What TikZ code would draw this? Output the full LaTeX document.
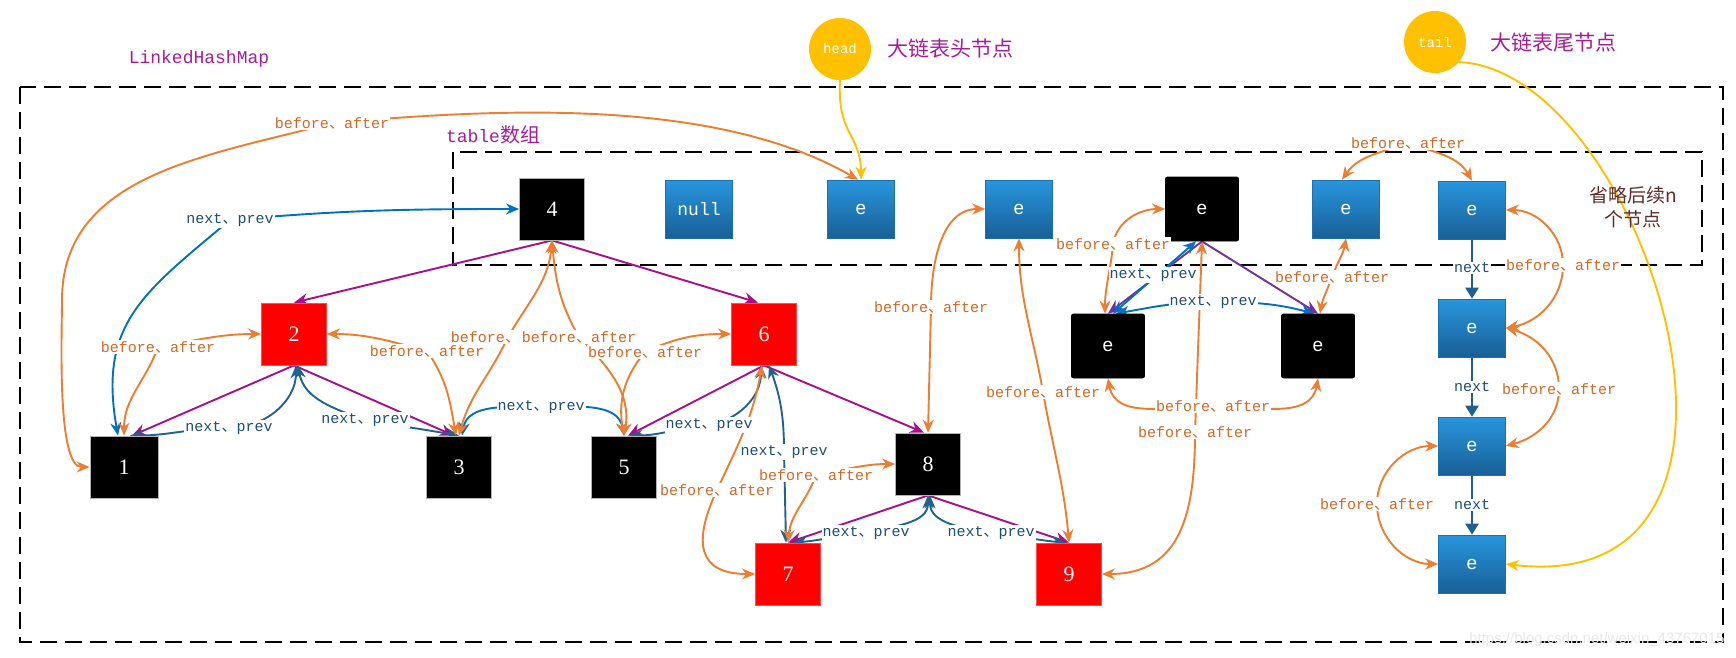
\documentclass[tikz,border=0pt]{standalone}
\usepackage{fontspec}
\setmainfont{Liberation Serif}
\setsansfont{Liberation Sans}
\setmonofont{Liberation Mono}
\newfontfamily\cjkfont{Noto Sans CJK SC}
\usetikzlibrary{arrows.meta,backgrounds}

\definecolor{baorange}{RGB}{237,125,49}
\definecolor{batext}{RGB}{208,104,38}
\definecolor{npblue}{RGB}{31,99,145}
\definecolor{npbright}{RGB}{0,112,192}
\definecolor{nptext}{RGB}{30,78,121}
\definecolor{nextblue}{RGB}{31,95,145}
\definecolor{treepurple}{RGB}{166,16,136}
\definecolor{evio}{RGB}{112,48,160}
\definecolor{titlemag}{RGB}{165,30,150}
\definecolor{gold}{RGB}{255,192,0}
\definecolor{etop}{RGB}{40,150,222}
\definecolor{ebot}{RGB}{25,95,150}
\definecolor{omitbrown}{RGB}{95,45,45}

\newcommand{\dunhao}{{\cjkfont 、}}
\newcommand{\bflab}{before\dunhao after}
\newcommand{\nplab}{next\dunhao prev}

\tikzset{
  dashframe/.style={draw=black, line width=2.2pt, dash pattern=on 17pt off 8pt},
  blkbox/.style={rectangle, fill=black, draw=gray!60, line width=.8pt, minimum width=65pt,
    minimum height=62pt, inner sep=0pt, text=white, font=\fontsize{22}{22}\selectfont},
  redbox/.style={blkbox, fill=red, draw=red!70!white},
  eblkbox/.style={blkbox, rounded corners=2pt, minimum width=73pt, minimum height=64pt,
    draw=black, font=\sffamily\fontsize{19}{19}\selectfont},
  bluebox/.style={rectangle, top color=etop, bottom color=ebot, draw=ebot!70!etop, line width=.6pt,
    minimum width=67pt, minimum height=58pt, inner sep=0pt, text=white, font=\sffamily\fontsize{19}{19}\selectfont},
  pointer/.style={circle, fill=gold, minimum size=62pt, inner sep=0pt, text=white,
    font=\ttfamily\fontsize{14}{14}\selectfont},
  titletext/.style={text=titlemag, font=\ttfamily\fontsize{18}{18}\selectfont, inner sep=1pt},
  cjktitle/.style={text=titlemag, font=\cjkfont\fontsize{21}{21}\selectfont, inner sep=1pt},
  omittext/.style={text=omitbrown, align=center, font=\cjkfont\fontsize{19}{24}\selectfont},
  balbl/.style={fill=white, text=batext, inner sep=1pt, font=\ttfamily\fontsize{15}{15}\selectfont},
  nplbl/.style={balbl, text=nptext},
  nextlbl/.style={balbl, text=nptext},
  bacurve/.style={draw=baorange, line width=1.9pt, {Stealth[length=13pt,width=11pt]}-{Stealth[length=13pt,width=11pt]}},
  npcurve/.style={bacurve, draw=npblue},
  npbcurve/.style={bacurve, draw=npbright},
  treearrow/.style={draw=treepurple, line width=1.9pt, -{Stealth[length=14pt,width=12pt]}},
  earrow/.style={treearrow, draw=evio},
  goldarrow/.style={draw=gold, line width=1.9pt, -{Stealth[length=13pt,width=11pt]}},
  nextarrow/.style={draw=nextblue, line width=2.4pt, -{Triangle[length=11pt,width=13pt]}}
}

\begin{document}
\begin{tikzpicture}[x=1pt, y=-1pt]
\useasboundingbox (0,0) rectangle (1736,658);

% titles and pointers
\node[titletext] (lhm) at (199,59) {LinkedHashMap};
\node[titletext] (tbl) at (493,135) {table{\cjkfont\fontsize{20}{20}\selectfont 数组}};
\node[pointer] (head) at (840,49) {head};
\node[cjktitle] (headtxt) at (950,48) {大链表头节点};
\node[pointer] (tail) at (1435,42) {tail};
\node[cjktitle] (tailtxt) at (1553,42) {大链表尾节点};
\node[omittext] (omit) at (1633,207) {省略后续n\\个节点};
\node[text=gray!18, font=\sffamily\fontsize{15}{15}\selectfont, anchor=east] (wmark) at (1728,640) {https://blog.csdn.net/weixin\_43767015};

% table row
\node[blkbox] (n4) at (552,209) {4};
\node[bluebox, font=\ttfamily\fontsize{18}{18}\selectfont] (nnull) at (699,209) {null};
\node[bluebox] (eh) at (861,209) {e};
\node[bluebox] (ea) at (1019,209) {e};
\node[eblkbox] (eb) at (1202,209) {e};
\node[bluebox] (ec) at (1346,209) {e};
\node[bluebox] (ed) at (1472,210) {e};

% chain on the right
\node[bluebox] (ee) at (1472,328) {e};
\node[bluebox] (ef) at (1472,446) {e};
\node[bluebox] (eg) at (1472,564) {e};

% tree
\node[redbox] (n2) at (294,334) {2};
\node[redbox] (n6) at (764,334) {6};
\node[blkbox, minimum width=68pt] (n1) at (124,467) {1};
\node[blkbox] (n3) at (459,467) {3};
\node[blkbox] (n5) at (624,467) {5};
\node[blkbox] (n8) at (928,464) {8};
\node[redbox] (n7) at (788,574) {7};
\node[redbox] (n9) at (1069,574) {9};
\node[eblkbox] (el) at (1108,346) {e};
\node[eblkbox] (er) at (1318,346) {e};

% before/after labels
\node[balbl] (tA) at (332,123) {\bflab};
\node[balbl] (tB) at (158,347) {\bflab};
\node[balbl] (tC) at (427,351) {\bflab};
\node[balbl] (tD) at (508,337) {\bflab};
\node[balbl] (tE) at (579,337) {\bflab};
\node[balbl] (tF) at (645,352) {\bflab};
\node[balbl] (t67) at (717,490) {\bflab};
\node[balbl] (t78) at (816,475) {\bflab};
\node[balbl] (tG) at (931,307) {\bflab};
\node[balbl] (tH) at (1043,392) {\bflab};
\node[balbl] (tI) at (1195,432) {\bflab};
\node[balbl] (tJ) at (1113,244) {\bflab};
\node[balbl] (tX) at (1213,406) {\bflab};
\node[balbl] (tY) at (1332,277) {\bflab};
\node[balbl] (tL) at (1408,143) {\bflab};
\node[balbl] (tU) at (1563,265) {\bflab};
\node[balbl] (tV) at (1559,389) {\bflab};
\node[balbl] (tW) at (1377,504) {\bflab};

% next/prev labels
\node[nplbl] (m14) at (230,220) {\nplab};
\node[nplbl] (m12) at (229,428) {\nplab};
\node[nplbl] (m23) at (365,420) {\nplab};
\node[nplbl] (m35) at (541,407) {\nplab};
\node[nplbl] (m56) at (709,425) {\nplab};
\node[nplbl] (m67) at (784,452) {\nplab};
\node[nplbl] (m78) at (866,533) {\nplab};
\node[nplbl] (m89) at (991,533) {\nplab};
\node[nplbl] (mbl) at (1153,275) {\nplab};
\node[nplbl] (mlr) at (1213,302) {\nplab};
\node[nextlbl] (k1) at (1472,268) {next};
\node[nextlbl] (k2) at (1472,387) {next};
\node[nextlbl] (k3) at (1472,505) {next};

\begin{scope}[on background layer]
  % frames
  \draw[dashframe] (20,87) rectangle (1723,642);
  \draw[dashframe] (453,152) rectangle (1702,265);

  % head and tail
  \draw[goldarrow] (head.south) .. controls +(-3,55) and +(0,-45) .. (eh.north);
  \draw[goldarrow] (tail.-40) .. controls (1645,70) and (1810,600) .. (eg.east);

  % tree edges
  \draw[treearrow] (n4.south) -- (n2.north);
  \draw[treearrow] (n4.south) -- ([xshift=-6pt]n6.north);
  \draw[treearrow] (n2.south) -- ([xshift=8pt]n1.north);
  \draw[treearrow] (n2.south) -- ([xshift=-5pt]n3.north);
  \draw[treearrow] (n6.south) -- ([xshift=4pt]n5.north);
  \draw[treearrow] (n6.south) -- ([xshift=-4pt]n8.north);
  \draw[treearrow] (n8.south) -- (n7.north);
  \draw[treearrow] (n8.south) -- (n9.north);
  \draw[earrow] (eb.south) -- (el.north);
  \draw[earrow] (eb.south) -- (er.north);

  % next / prev
  \draw[npbcurve] ([xshift=-6pt]n1.north) to[out=100,in=-140,looseness=1.2] (m14.center) to[out=5,in=180] (n4.west);
  \draw[npcurve] ([xshift=6pt]n1.north) to[out=0,in=180] (m12.center) to[out=0,in=-90] ([xshift=2pt]n2.south);
  \draw[npcurve] ([xshift=4pt]n2.south) to[out=-80,in=160] (m23.center) to[out=-10,in=170] (n3.north);
  \draw[npbcurve] ([xshift=3pt]n3.north) to[out=80,in=180] (m35.center) to[out=0,in=100] (n5.north);
  \draw[npcurve] ([xshift=5pt]n5.north) to[out=0,in=185] (m56.center) to[out=10,in=-90] ([xshift=-3pt]n6.south);
  \draw[npcurve] ([xshift=5pt]n6.south) to[out=-70,in=90] (m67.center) -- ([xshift=-2pt]n7.north);
  \draw[npcurve] ([xshift=6pt]n7.north) to[out=5,in=185] (m78.center) to[out=15,in=-90] (n8.south);
  \draw[npcurve] ([xshift=2pt]n8.south) to[out=-90,in=170] (m89.center) to[out=-5,in=175] ([xshift=-4pt]n9.north);
  \draw[npbcurve] ([xshift=-6pt]eb.south) -- ([xshift=5pt]el.north);
  \draw[npbcurve] ([xshift=8pt]el.north) to[out=10,in=180] (mlr.center) to[out=0,in=165] ([xshift=-4pt]er.north);

  % before / after
  \coordinate (bendA) at (62,300);
  \draw[bacurve] ([xshift=-3pt]eh.north) to[out=150,in=5,looseness=.8] (tA.center) to[out=195,in=90] (bendA)
    to[out=-90,in=180,looseness=.5] (n1.west);
  \draw[bacurve] (n2.west) to[out=180,in=10] (tB.center) to[out=-110,in=90] (n1.north);
  \draw[bacurve] (n2.east) to[out=0,in=165] (tC.center) to[out=-55,in=100] ([xshift=-3pt]n3.north);
  \draw[bacurve] (n4.south) to[out=-95,in=60] (tD.center) to[out=-115,in=75] (n3.north);
  \draw[bacurve] (n4.south) to[out=-85,in=120] (tE.center) to[out=-45,in=80] (n5.north);
  \draw[bacurve] (n5.north) to[out=100,in=-130] (tF.center) to[out=25,in=180] (n6.west);
  \draw[bacurve] ([xshift=-2pt]n6.south) to[out=-100,in=65] (t67.center) to[out=-115,in=180,looseness=1.6] (n7.west);
  \draw[bacurve] (n8.west) to[out=180,in=10] (t78.center) to[out=-110,in=85] (n7.north);
  \draw[bacurve] (n8.north) -- (tG.center) to[out=90,in=180] (ea.west);
  \draw[bacurve] (ea.south) to[out=-90,in=100] (tH.center) to[out=-80,in=95] (n9.north);
  \draw[bacurve] (eb.south) -- (tI.center) to[out=-90,in=0,looseness=1.2] (n9.east);
  \draw[bacurve] (eb.west) to[out=180,in=80] (tJ.center) to[out=-95,in=90] ([xshift=-3pt]el.north);
  \draw[bacurve] (el.south) to[out=-80,in=180] (tX.center) to[out=0,in=-100] (er.south);
  \draw[bacurve] (ec.south) to[out=-100,in=70] (tY.center) to[out=-110,in=80] ([xshift=2pt]er.north);
  \draw[bacurve] ([xshift=-4pt]ec.north) to[out=55,in=-160] (tL.center) to[out=-20,in=120] (ed.north);
  \draw[bacurve] (ed.east) to[out=0,in=90] (tU.center) to[out=-90,in=10] (ee.east);
  \draw[bacurve] (ee.east) to[out=-15,in=90] (tV.center) to[out=-90,in=15] (ef.east);
  \draw[bacurve] (ef.west) to[out=180,in=90] (tW.center) to[out=-90,in=180] (eg.west);

  % next along the chain
  \draw[nextarrow] (ed) -- (ee);
  \draw[nextarrow] (ee) -- (ef);
  \draw[nextarrow] (ef) -- (eg);
\end{scope}
\end{tikzpicture}
\end{document}
